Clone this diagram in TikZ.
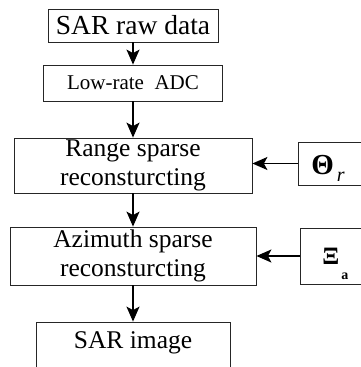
\documentclass[tikz,border=0pt]{standalone}
\usepackage{fontspec}
\setmainfont{Liberation Serif}
\usetikzlibrary{arrows.meta}

\begin{document}
\begin{tikzpicture}
[   x=1pt,y=-1pt,
    bnode/.style={draw=black!85,line width=0.8pt,inner sep=0pt,align=center,font=\fontsize{25.5}{29}\selectfont},
    pnode/.style={bnode,anchor=west,align=left,text width=60pt,text depth=0pt},
    arr/.style={line width=1.4pt,-{Stealth[length=15pt,width=13pt,inset=3.5pt]}},
]
    \useasboundingbox (0,0) rectangle (361,367);
    \clip (0,0) rectangle (361,367);

%%%%%%%%%%%%%%%%%%%% MAIN CHAIN %%%%%%%%%%%%%%%%%%%%%%%%%%%%%%%%%%%
    \node[bnode,minimum width=170pt,minimum height=33pt,font=\fontsize{27.5}{30}\selectfont] (raw) at (133,25.5) {SAR raw data};
    \node[bnode,minimum width=179pt,minimum height=36pt,font=\fontsize{21}{24}\selectfont] (adc) at (133,83) {Low-rate\ \ ADC};
    \node[bnode,minimum width=238pt,minimum height=55pt] (range) at (133,165.5) {Range sparse\\reconsturcting};
    \node[bnode,minimum width=246pt,minimum height=58pt] (azim) at (133,256) {Azimuth sparse\\reconsturcting};
    \node[bnode,minimum width=194pt,minimum height=50pt,text height=17pt,text depth=15pt] (img) at (133,347) {SAR image};
    \draw[arr] (raw) -- (adc);
    \draw[arr] (adc) -- (range);
    \draw[arr] (range) -- (azim);
    \draw[arr] (azim) -- (img);


%%%%%%%%%%%%%%%%%%%% DICTIONARIES %%%%%%%%%%%%%%%%%%%%%%%%%%%%%%%%%%%
    \node[pnode,minimum height=43pt,inner xsep=13pt,text height=22pt] (theta) at (298,163.5)
        {{\fontsize{29}{29}\selectfont\bfseries Θ}\hspace{3pt}\raisebox{-7pt}{\fontsize{20}{20}\selectfont\itshape r}};
    \node[pnode,minimum height=56pt,inner xsep=22pt,text height=16pt] (xi) at (300,256)
        {{\fontsize{25}{25}\selectfont\bfseries Ξ}\hspace{2pt}\raisebox{-15pt}{\fontsize{14}{14}\selectfont\bfseries a}};
    \draw[arr] (theta.west) -- (theta.west -| range.east);
    \draw[arr] (xi.west) -- (xi.west -| azim.east);

\end{tikzpicture}
\end{document}
